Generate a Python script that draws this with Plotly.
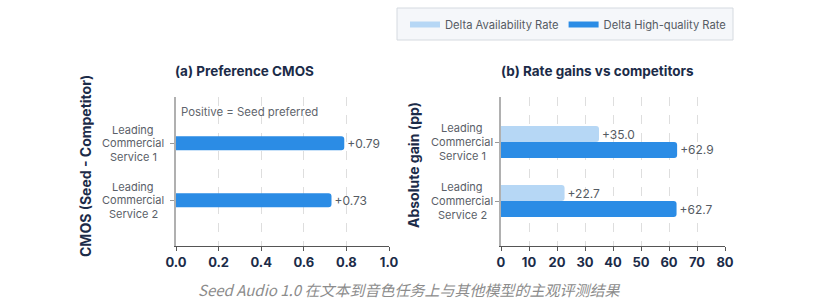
import plotly.graph_objects as go

W, H = 840, 306

categories = ["Leading<br>Commercial<br>Service 1", "Leading<br>Commercial<br>Service 2"]
cmos_values = [0.79, 0.73]
availability_gain = [35.0, 22.7]
high_quality_gain = [62.9, 62.7]
cmos_ticks = [0.0, 0.2, 0.4, 0.6, 0.8, 1.0]
rate_ticks = [0, 10, 20, 30, 40, 50, 60, 70, 80]

DARK = "#2b8ce5"
LIGHT = "#b6d7f5"
NAVY = "#1b2b48"
GRAY = "#555b63"
FONT = "Inter"


def px_x(p):
    return p / W


def px_y(p):
    return 1 - p / H


fig = go.Figure()

# Left panel
fig.add_trace(go.Bar(
    y=categories, x=cmos_values, orientation="h",
    marker=dict(color=DARK, line=dict(width=0)),
    width=0.245, offset=-0.1225,
    text=[f"+{v:.2f}" for v in cmos_values], textposition="outside",
    textfont=dict(color=GRAY, size=12, family=FONT),
    constraintext="none", cliponaxis=False,
    xaxis="x", yaxis="y", showlegend=False,
))

# Right panel
fig.add_trace(go.Bar(
    y=categories, x=availability_gain, orientation="h",
    marker=dict(color=LIGHT, line=dict(width=0)),
    width=0.27, offset=-0.27,
    text=[f"+{v:.1f}" for v in availability_gain], textposition="outside",
    textfont=dict(color=GRAY, size=12, family=FONT),
    constraintext="none", cliponaxis=False,
    xaxis="x2", yaxis="y2", showlegend=False,
))
fig.add_trace(go.Bar(
    y=categories, x=high_quality_gain, orientation="h",
    marker=dict(color=DARK, line=dict(width=0)),
    width=0.27, offset=0.0,
    text=[f"+{v:.1f}" for v in high_quality_gain], textposition="outside",
    textfont=dict(color=GRAY, size=12, family=FONT),
    constraintext="none", cliponaxis=False,
    xaxis="x2", yaxis="y2", showlegend=False,
))

# Legend proxies
fig.add_trace(go.Scatter(x=[None], y=[None], mode="lines", name="Delta Availability Rate",
                         line=dict(color=LIGHT, width=6), xaxis="x2", yaxis="y2"))
fig.add_trace(go.Scatter(x=[None], y=[None], mode="lines", name="Delta High-quality Rate",
                         line=dict(color=DARK, width=6), xaxis="x2", yaxis="y2"))

ydom = [px_y(246), px_y(97)]

xaxis_common = dict(
    showgrid=True, gridcolor="#dedede", griddash="dash", gridwidth=1,
    zeroline=False, showline=True, linecolor="#555555", linewidth=1,
    ticks="outside", ticklen=4, tickcolor="#555555", automargin=False,
    tickfont=dict(family=FONT, size=13, color=NAVY, weight="bold"),
)
yaxis_common = dict(
    type="category", showgrid=False, zeroline=False,
    showline=True, linecolor="#b0b0b0", linewidth=1.5,
    ticks="outside", ticklen=4, tickcolor="#999999", automargin=False,
    showticklabels=False,
)

# Category labels: centred multi-line text with tight line spacing
cat_annotations = []
for yref, xc in (("y", 133), ("y2", 462)):
    for cat in categories:
        lines = cat.split("<br>")
        n = len(lines)
        for i, line in enumerate(lines):
            cat_annotations.append(dict(
                text=line, xref="paper", yref=yref, x=px_x(xc), y=cat,
                xanchor="center", yanchor="middle", showarrow=False,
                borderpad=0, yshift=((n - 1) / 2 - i) * 13.6,
                font=dict(family=FONT, size=11, color="#5a6068"),
            ))

fig.update_layout(
    width=W, height=H,
    margin=dict(l=0, r=0, t=0, b=0, autoexpand=False),
    paper_bgcolor="white", plot_bgcolor="white",
    barmode="overlay", barcornerradius=3,
    font=dict(family=FONT),
    xaxis=dict(domain=[px_x(176), px_x(389)], range=[0, 1.0], tickvals=cmos_ticks,
               ticktext=[f"{t:.1f}" for t in cmos_ticks], anchor="y", **xaxis_common),
    yaxis=dict(domain=ydom, range=[1.80, -0.81], anchor="x", **yaxis_common),
    xaxis2=dict(domain=[px_x(501), px_x(725)], range=[0, 80], tickvals=rate_ticks,
                anchor="y2", **xaxis_common),
    yaxis2=dict(domain=ydom, range=[1.762, -0.763], anchor="x2", **yaxis_common),
    legend=dict(
        orientation="h", x=px_x(405), y=px_y(10), xanchor="left", yanchor="top",
        bgcolor="rgba(0,0,0,0)", borderwidth=0,
        font=dict(family=FONT, size=11.2, color=GRAY),
        itemwidth=30, tracegroupgap=0,
    ),
    shapes=[dict(
        type="rect", xref="paper", yref="paper",
        x0=px_x(397), x1=px_x(733), y0=px_y(40), y1=px_y(8),
        fillcolor="#f5f7fa", line=dict(color="#d5dae0", width=1), layer="below",
    )],
    annotations=cat_annotations + [
        dict(text="<b>(a) Preference CMOS</b>", xref="paper", yref="paper",
             x=px_x(244), y=px_y(71), showarrow=False, xanchor="center", yanchor="middle",
             font=dict(family=FONT, size=13.5, color=NAVY)),
        dict(text="<b>(b) Rate gains vs competitors</b>", xref="paper", yref="paper",
             x=px_x(597), y=px_y(71), showarrow=False, xanchor="center", yanchor="middle",
             font=dict(family=FONT, size=13.5, color=NAVY)),
        dict(text="<b>CMOS (Seed - Competitor)</b>", xref="paper", yref="paper",
             x=px_x(85), y=px_y(166), showarrow=False, textangle=-90,
             xanchor="center", yanchor="middle",
             font=dict(family=FONT, size=14, color=NAVY)),
        dict(text="<b>Absolute gain (pp)</b>", xref="paper", yref="paper",
             x=px_x(413), y=px_y(165), showarrow=False, textangle=-90,
             xanchor="center", yanchor="middle",
             font=dict(family=FONT, size=14, color=NAVY)),
        dict(text="Positive = Seed preferred", xref="paper", yref="paper",
             x=px_x(179), y=px_y(112), showarrow=False, xanchor="left", yanchor="middle",
             font=dict(family=FONT, size=11.4, color="#5f656d")),
        dict(text="<i>Seed Audio 1.0 在文本到音色任务上与其他模型的主观评测结果</i>",
             xref="paper", yref="paper",
             x=px_x(409), y=px_y(289), showarrow=False, xanchor="center", yanchor="middle",
             font=dict(family="Noto Sans CJK SC", size=15, color="#8c8c8c")),
    ],
)

fig.write_html("out.html")
